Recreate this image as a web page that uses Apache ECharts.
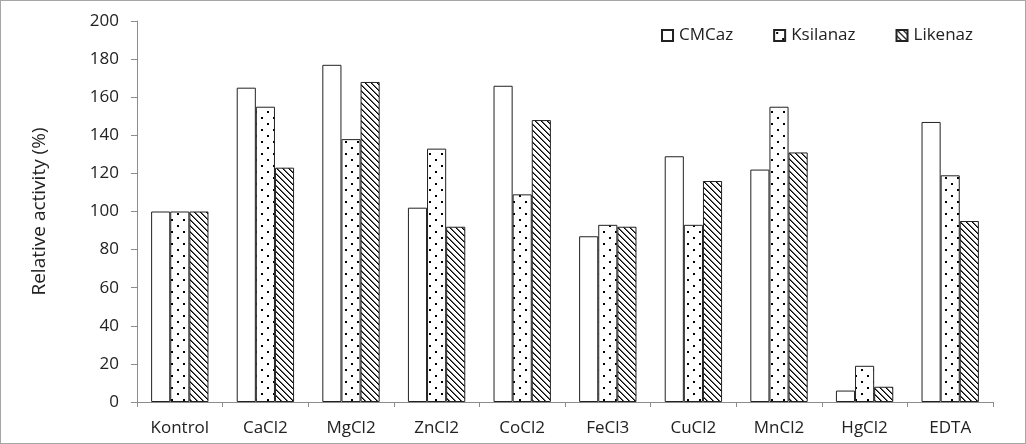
<!DOCTYPE html>
<html><head><meta charset="utf-8">
<script src="https://cdn.jsdelivr.net/npm/echarts@6/dist/echarts.min.js"></script>
<style>html,body{margin:0;padding:0;background:#fff}
#c{width:1024px;height:442px;border:1px solid #a6a6a6}</style>
</head><body><div id="c"></div>
<script>
const categories = ['Kontrol','CaCl2','MgCl2','ZnCl2','CoCl2','FeCl3','CuCl2','MnCl2','HgCl2','EDTA'];
const cmcaz    = [100,165,177,102,166,87,129,122,6,147];
const ksilanaz = [100,155,138,133,109,93,93,155,19,119];
const likenaz  = [100,123,168,92,148,92,116,131,8,95];
const seriesNames = ['CMCaz','Ksilanaz','Likenaz'];
const yTicks = [0,20,40,60,80,100,120,140,160,180,200];

function dotPattern(){
  const c=document.createElement('canvas');c.width=12;c.height=12;
  const g=c.getContext('2d');g.fillStyle='#fff';g.fillRect(0,0,12,12);
  g.fillStyle='#000';g.fillRect(2,2,2,2);g.fillRect(8,8,2,2);
  return c;
}
function diagPattern(){
  const c=document.createElement('canvas');c.width=6;c.height=6;
  const g=c.getContext('2d');g.fillStyle='#fff';g.fillRect(0,0,6,6);
  g.fillStyle='#000';
  for(let i=0;i<6;i++) g.fillRect(i,i,1,1);
  g.fillStyle='#666';
  for(let i=0;i<6;i++) g.fillRect((i+1)%6,i,1,1);
  return c;
}
const FONT='Open Sans';
const chart=echarts.init(document.getElementById('c'),null,{renderer:'canvas'});
const border={borderColor:'#222',borderWidth:1};
chart.setOption({
  animation:false,
  textStyle:{fontFamily:FONT},
  legend:{
    top:21,right:47,itemWidth:11,itemHeight:11,itemGap:40,icon:'rect',
    textStyle:{fontSize:17,color:'#222',fontFamily:FONT,padding:[0,0,0,1]},
    data:seriesNames
  },
  grid:{left:136,right:32,top:20,bottom:41},
  xAxis:{
    type:'category',data:categories,
    axisLine:{lineStyle:{color:'#8c8c8c'}},
    axisTick:{show:true,length:5,lineStyle:{color:'#8c8c8c'}},
    axisLabel:{fontSize:17,color:'#222',margin:18}
  },
  yAxis:{
    type:'value',min:0,max:200,interval:20,
    name:'Relative activity (%)',nameLocation:'middle',nameGap:88,
    nameTextStyle:{fontSize:19,color:'#222'},
    axisLine:{show:true,lineStyle:{color:'#8c8c8c'}},
    axisTick:{show:true,length:6,lineStyle:{color:'#8c8c8c'}},
    splitLine:{show:false},
    axisLabel:{fontSize:17,color:'#222',margin:18,
      formatter:v=>yTicks.includes(v)?String(v):''}
  },
  series:[
    {name:seriesNames[0],type:'bar',data:cmcaz,barGap:'0%',barCategoryGap:'33%',
     itemStyle:Object.assign({color:'#fff'},border)},
    {name:seriesNames[1],type:'bar',data:ksilanaz,barGap:'0%',barCategoryGap:'33%',
     itemStyle:Object.assign({color:{image:dotPattern(),repeat:'repeat'}},border)},
    {name:seriesNames[2],type:'bar',data:likenaz,barGap:'0%',barCategoryGap:'33%',
     itemStyle:Object.assign({color:{image:diagPattern(),repeat:'repeat'}},border)}
  ]
});
</script></body></html>
